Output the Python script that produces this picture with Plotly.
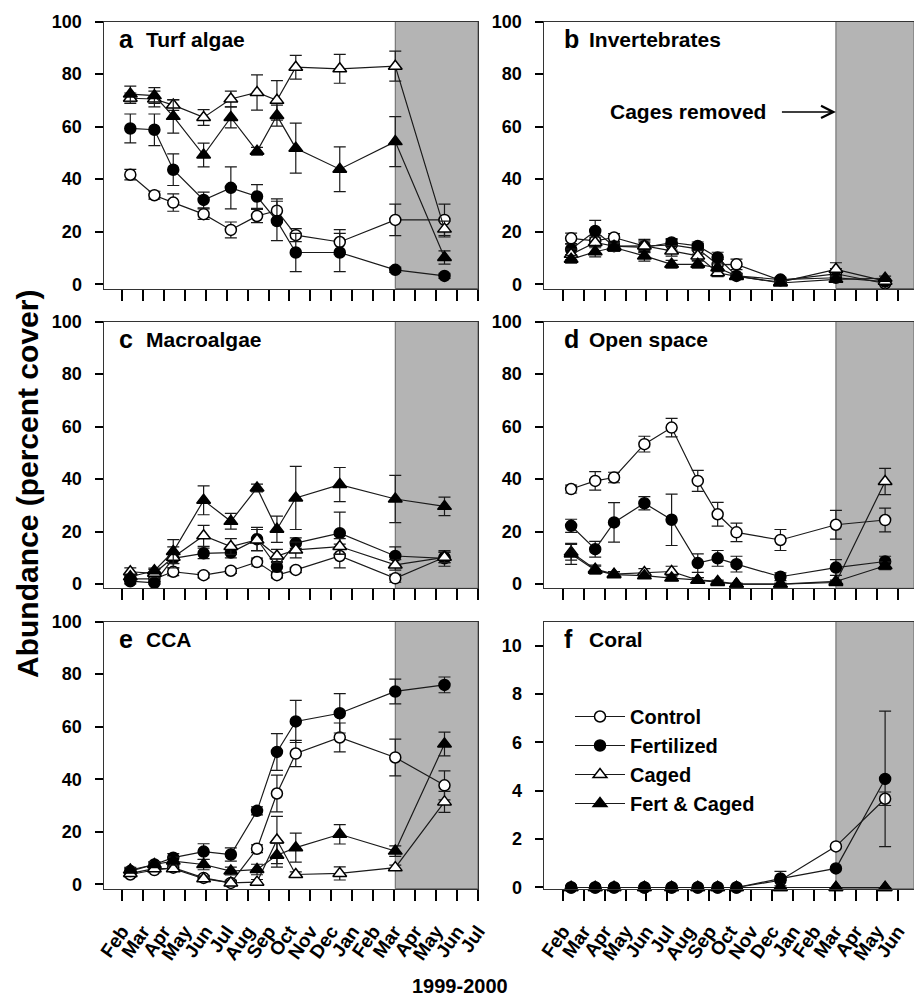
import plotly.graph_objects as go

# ---------------- data ----------------
MONTHS = ["Feb", "Mar", "Apr", "May", "Jun", "Jul", "Aug", "Sep", "Oct",
          "Nov", "Dec", "Jan", "Feb", "Mar", "Apr", "May", "Jun", "Jul"]
MONTH_POS = list(range(len(MONTHS)))          # monthly ticks, Feb 1999 = 0
SAMPLE_X = [0.4, 1.55, 2.45, 3.9, 5.2, 6.45, 7.4, 8.3, 10.4, 13.05, 15.4]
CAGES_REMOVED = 13.05
SERIES = ["Control", "Fertilized", "Caged", "Fert & Caged"]

# a Turf algae
turf_control = [41.7, 33.9, 31.1, 26.7, 20.7, 26.0, 28.0, 18.7, 16.1, 24.5, 24.5]
turf_control_se = [2, 1.5, 3.3, 2, 3, 2.5, 4.5, 2.5, 4.7, 6, 6]
turf_fert = [59.3, 58.8, 43.6, 32.1, 36.7, 33.4, 24.1, 12.1, 12.1, 5.5, 3.2]
turf_fert_se = [5.5, 6, 6, 3, 8, 4.5, 7.5, 7.3, 7.3, 1, 1]
turf_caged = [70.8, 70.5, 68.2, 63.5, 70.5, 73.0, 70.0, 82.6, 82.0, 83.0, 21.0]
turf_caged_se = [2, 3, 2, 3, 3, 6.7, 7.5, 4.5, 5.5, 5.7, 3]
turf_fc = [72.4, 71.8, 63.9, 49.2, 63.5, 50.6, 64.2, 51.8, 43.8, 54.3, 10.2]
turf_fc_se = [3, 3, 6.4, 4.5, 4, 1.5, 4, 9.5, 8.5, 9.5, 2.5]

# b Invertebrates
inv_control = [17.5, 16.5, 17.8, 14.5, 15.0, 13.5, 7.5, 7.6, 1.5, 4.0, 0.3]
inv_control_se = [2, 2, 1.5, 2, 2, 2, 2, 2, 0.8, 2, 0.5]
inv_fert = [13.3, 20.3, 14.5, 14.0, 15.9, 14.6, 10.2, 3.2, 1.8, 2.5, 1.0]
inv_fert_se = [2, 4, 1.5, 2, 1.5, 1.5, 2, 1, 0.8, 1, 0.5]
inv_caged = [11.4, 15.9, 14.5, 14.6, 12.7, 10.8, 4.4, 3.0, 0.8, 5.7, 1.2]
inv_caged_se = [2, 2, 1.5, 2.5, 2, 2, 1.5, 1, 0.5, 2.5, 0.5]
inv_fc = [9.5, 12.4, 14.0, 10.8, 7.6, 7.6, 6.3, 3.2, 0.5, 1.9, 2.3]
inv_fc_se = [1.5, 2, 1.5, 2, 1.5, 1.5, 1.5, 1, 0.5, 1, 0.8]

# c Macroalgae
mac_control = [2.0, 2.0, 4.7, 3.4, 5.1, 8.4, 3.4, 5.4, 10.7, 2.2, 10.2]
mac_control_se = [1, 1, 1.5, 1, 1, 1.5, 1, 1, 4.5, 1.5, 2]
mac_fert = [1.1, 0.5, 9.8, 11.7, 12.0, 17.1, 6.6, 15.6, 19.4, 10.7, 9.8]
mac_fert_se = [1, 0.5, 2, 2, 2, 4.5, 2, 2, 8, 3.5, 3]
mac_caged = [4.7, 4.1, 10.2, 18.4, 14.3, 16.8, 10.7, 13.0, 14.3, 7.3, 10.2]
mac_caged_se = [1.5, 1.5, 4, 4, 3, 4, 2.5, 3, 3, 2, 2]
mac_fc = [2.8, 5.1, 12.4, 31.9, 23.9, 36.6, 20.9, 32.8, 37.9, 32.4, 29.6]
mac_fc_se = [1, 1, 4.5, 5.5, 3, 1.5, 5, 12, 6.5, 9, 3.5]

# d Open space
open_control = [36.2, 39.3, 40.6, 53.3, 59.6, 39.3, 26.6, 19.7, 16.8, 22.6, 24.4]
open_control_se = [1.5, 3.5, 2, 3, 3.5, 4, 4.5, 3.5, 4, 5.5, 4.5]
open_fert = [22.2, 13.3, 23.5, 30.8, 24.5, 8.0, 9.8, 7.6, 2.8, 6.3, 8.6]
open_fert_se = [2.5, 3, 7.5, 2.5, 9.8, 3.5, 3, 3, 1.5, 3, 2]
open_caged = [12.1, 5.7, 3.8, 4.4, 4.8, 1.5, 0.6, 0.0, 0.0, 0.6, 39.1]
open_caged_se = [3, 1.5, 1, 1.5, 2, 1, 0.5, 0.3, 0.3, 0.5, 5]
open_fc = [11.5, 5.3, 3.6, 3.2, 2.3, 1.5, 1.0, 0.0, 0.0, 1.0, 7.0]
open_fc_se = [4, 1.5, 1, 1, 1, 1, 0.5, 0.3, 0.3, 0.5, 1.5]

# e CCA
cca_control = [3.8, 5.5, 6.4, 2.5, 0.6, 13.6, 34.6, 49.8, 55.9, 48.3, 37.7]
cca_control_se = [1, 1, 1, 1, 1, 1.5, 7, 5, 5.5, 7, 5.5]
cca_fert = [5.1, 7.6, 10.2, 12.5, 11.4, 28.0, 50.4, 62.0, 65.1, 73.4, 75.9]
cca_fert_se = [1, 1, 1.5, 3, 2.5, 1.5, 7, 8, 7.5, 4.7, 3]
cca_caged = [4.2, 6.0, 6.0, 2.2, 0.6, 0.9, 16.9, 3.8, 4.2, 6.4, 31.4]
cca_caged_se = [1, 1, 1, 1, 1, 1, 9, 1, 2.5, 1, 4]
cca_fc = [5.5, 7.6, 8.9, 7.6, 5.1, 5.7, 11.1, 14.0, 19.1, 12.7, 53.4]
cca_fc_se = [1, 1, 1.5, 2, 1.5, 2, 4.5, 5.5, 3.7, 2, 4.5]

# f Coral
coral_control = [0, 0, 0, 0, 0, 0, 0, 0, 0.3, 1.7, 3.67]
coral_control_se = [0, 0, 0, 0, 0, 0, 0, 0, 0, 0, 0.28]
coral_fert = [0, 0, 0, 0, 0, 0, 0, 0, 0.37, 0.79, 4.49]
coral_fert_se = [0, 0, 0, 0, 0, 0, 0, 0, 0.3, 0, 2.8]
coral_caged = [0, 0, 0, 0, 0, 0, 0, 0, 0, 0, 0]
coral_caged_se = [0, 0, 0, 0, 0, 0, 0, 0, 0, 0, 0]
coral_fc = [0, 0, 0, 0, 0, 0, 0, 0, 0, 0, 0]
coral_fc_se = [0, 0, 0, 0, 0, 0, 0, 0, 0, 0, 0]

PANELS = [
    ("a", "Turf algae", [turf_control, turf_fert, turf_caged, turf_fc],
     [turf_control_se, turf_fert_se, turf_caged_se, turf_fc_se]),
    ("b", "Invertebrates", [inv_control, inv_fert, inv_caged, inv_fc],
     [inv_control_se, inv_fert_se, inv_caged_se, inv_fc_se]),
    ("c", "Macroalgae", [mac_control, mac_fert, mac_caged, mac_fc],
     [mac_control_se, mac_fert_se, mac_caged_se, mac_fc_se]),
    ("d", "Open space", [open_control, open_fert, open_caged, open_fc],
     [open_control_se, open_fert_se, open_caged_se, open_fc_se]),
    ("e", "CCA", [cca_control, cca_fert, cca_caged, cca_fc],
     [cca_control_se, cca_fert_se, cca_caged_se, cca_fc_se]),
    ("f", "Coral", [coral_control, coral_fert, coral_caged, coral_fc],
     [coral_control_se, coral_fert_se, coral_caged_se, coral_fc_se]),
]

# ---------------- style ----------------
W, H = 914, 1001
FONT = "Liberation Sans, Arial, sans-serif"
SYMBOLS = ["circle", "circle", "triangle-up", "triangle-up"]
FILLS = ["white", "black", "white", "black"]
SIZES = [11, 11, 12, 12]
GRAY = "#b4b4b4"

LEFT_DOM = [103.5 / W, 478 / W]
RIGHT_DOM = [543.5 / W, 1.0]
ROWS_PX = [(21.5, 288.5), (321.5, 588.3), (621.5, 888.7)]


def ydom(top, bot):
    return [1 - bot / H, 1 - top / H]


fig = go.Figure()

for i, (letter, name, means, ses) in enumerate(PANELS):
    row, col = divmod(i, 2)
    n = i + 1
    xa = "x" if n == 1 else f"x{n}"
    ya = "y" if n == 1 else f"y{n}"
    for s in range(4):
        fig.add_trace(go.Scatter(
            x=SAMPLE_X, y=means[s], xaxis=xa, yaxis=ya,
            mode="lines+markers", name=SERIES[s],
            showlegend=(letter == "f"), legendgroup=SERIES[s],
            line=dict(color="#1a1a1a", width=1.2),
            marker=dict(symbol=SYMBOLS[s], size=SIZES[s], color=FILLS[s],
                        line=dict(color="black", width=1.5)),
            error_y=dict(type="data", array=ses[s], visible=True,
                         color="#1a1a1a", thickness=1.2, width=6),
            cliponaxis=False,
        ))

    lay_x = "xaxis" if n == 1 else f"xaxis{n}"
    lay_y = "yaxis" if n == 1 else f"yaxis{n}"
    xr = [-0.88, 17.0] if col == 0 else [-0.92, 16.78]
    fig.layout[lay_x] = dict(
        domain=LEFT_DOM if col == 0 else RIGHT_DOM,
        anchor=ya, range=xr, tickmode="array", tickvals=MONTH_POS,
        ticktext=MONTHS, showticklabels=(row == 2), tickangle=-55,
        ticks="outside", ticklen=11, tickwidth=2.2, tickcolor="black",
        showline=True, mirror=True, linecolor="#333", linewidth=1,
        showgrid=False, zeroline=False, automargin=False,
        ticklabelstandoff=12,
        tickfont=dict(family=FONT, size=19, color="black", weight="bold"),
    )
    if letter == "f":
        yr, yt = [-0.05, 11], [0, 2, 4, 6, 8, 10]
    else:
        yr, yt = [-1.6, 100], [0, 20, 40, 60, 80, 100]
    fig.layout[lay_y] = dict(
        domain=ydom(*ROWS_PX[row]), anchor=xa, range=yr, tickvals=yt,
        ticks="outside", ticklen=8, tickwidth=1.5, tickcolor="black",
        showline=True, mirror=True, linecolor="#333", linewidth=1,
        showgrid=False, zeroline=False, ticklabelstandoff=9,
        automargin=False,
        tickfont=dict(family=FONT, size=18, color="black", weight="bold"),
    )
    # shading after cage removal
    fig.add_shape(type="rect", xref=xa, yref=f"{ya} domain",
                  x0=CAGES_REMOVED, x1=xr[1], y0=0, y1=1,
                  fillcolor=GRAY, line=dict(color="#666", width=1),
                  layer="below")
    # panel labels
    xs_letter = 13 if col == 0 else 18
    xs_word = 40 if col == 0 else 43
    fig.add_annotation(xref=f"{xa} domain", yref=f"{ya} domain", x=0, y=0.933,
                       xanchor="left", yanchor="middle", xshift=xs_letter,
                       text=letter, showarrow=False,
                       font=dict(family=FONT, size=25, color="black", weight="bold"))
    fig.add_annotation(xref=f"{xa} domain", yref=f"{ya} domain", x=0, y=0.933,
                       xanchor="left", yanchor="middle", xshift=xs_word,
                       text=name, showarrow=False,
                       font=dict(family=FONT, size=21, color="black", weight="bold"))

# "Cages removed" arrow in panel b
fig.add_annotation(xref="x2", yref="y2", x=CAGES_REMOVED, y=65.6,
                   xanchor="right", yanchor="middle", xshift=-68,
                   text="Cages removed", showarrow=False,
                   font=dict(family=FONT, size=21, color="black", weight="bold"))
fig.add_annotation(xref="x2", yref="y2", x=CAGES_REMOVED, y=65.6,
                   ax=-57, ay=0, text=" ", showarrow=True, arrowhead=5,
                   arrowsize=1.6, arrowwidth=1.5, arrowcolor="black")

# axis titles
fig.add_annotation(xref="paper", yref="paper", x=27 / W, y=1 - 484 / H,
                   text="Abundance (percent cover)", textangle=-90,
                   showarrow=False, xanchor="center", yanchor="middle",
                   font=dict(family=FONT, size=30, color="black", weight="bold"))
fig.add_annotation(xref="paper", yref="paper", x=460 / W, y=1 - 986 / H,
                   text="1999-2000", showarrow=False,
                   xanchor="center", yanchor="middle",
                   font=dict(family=FONT, size=20, color="black", weight="bold"))

fig.update_layout(
    width=W, height=H, autosize=False,
    margin=dict(l=0, r=0, t=0, b=0, autoexpand=False),
    paper_bgcolor="white", plot_bgcolor="white",
    legend=dict(x=570 / W, y=1 - 697 / H, xanchor="left", yanchor="top",
                bgcolor="rgba(0,0,0,0)", itemwidth=50, tracegroupgap=0,
                font=dict(family=FONT, size=20, color="black", weight="bold")),
    font=dict(family=FONT, color="black"),
)

fig.write_html("out.html", config={"displayModeBar": False},
               post_script="document.body.style.margin='0px';")
